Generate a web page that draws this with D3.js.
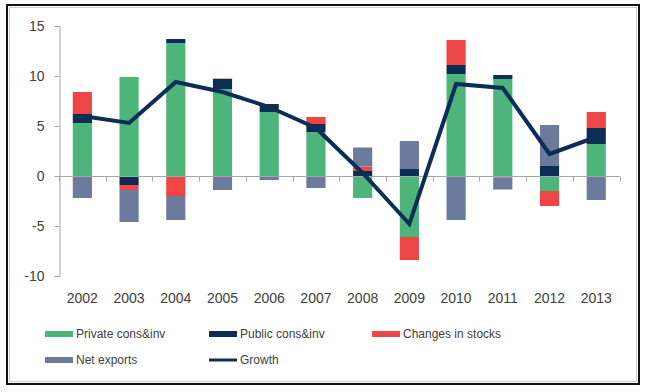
<!DOCTYPE html>
<html>
<head>
<meta charset="utf-8">
<script src="https://cdn.jsdelivr.net/npm/d3@7"></script>
<style>
  body { margin: 0; background: #fff; }
  text { font-family: "Liberation Sans", Arial, sans-serif; fill: #404040; }
</style>
</head>
<body>
<div id="wrapper"></div>
<script>
const years = ['2002', '2003', '2004', '2005', '2006', '2007', '2008', '2009', '2010', '2011', '2012', '2013'];
const privateCons = [5.3, 9.9, 13.3, 8.7, 6.4, 4.4, -2.2, -6.1, 10.2, 9.7, -1.5, 3.2];
const publicCons = [0.9, -0.9, 0.4, 1.0, 0.8, 0.8, 0.5, 0.7, 0.9, 0.4, 1.0, 1.6];
const stocks = [2.2, -0.5, -2.0, 0.05, -0.1, 0.7, 0.45, -2.3, 2.5, -0.15, -1.5, 1.6];
const netExports = [-2.2, -3.2, -2.4, -1.4, -0.3, -1.2, 1.9, 2.8, -4.4, -1.2, 4.1, -2.4];
const growth = [6.0, 5.3, 9.4, 8.4, 6.9, 4.8, 0.3, -4.8, 9.2, 8.8, 2.2, 3.9];
const yTicks = [-10, -5, 0, 5, 10, 15];

const series = [
  { key: 'private', label: 'Private cons&inv', color: '#4db47a', values: privateCons },
  { key: 'public', label: 'Public cons&inv', color: '#0c2e56', values: publicCons },
  { key: 'stocks', label: 'Changes in stocks', color: '#ee4646', values: stocks },
  { key: 'net', label: 'Net exports', color: '#6c7a9d', values: netExports }
];

const table = years.map((y, i) => {
  const row = { year: y };
  series.forEach(s => row[s.key] = s.values[i]);
  return row;
});

const width = 645;
const height = 392;

const svg = d3.select('#wrapper')
  .append('svg')
    .attr('width', width)
    .attr('height', height);

// frame
svg.append('rect')
    .attr('x', 7).attr('y', 5)
    .attr('width', 632).attr('height', 379)
    .attr('fill', 'none')
    .attr('stroke', '#111')
    .attr('stroke-width', 2);
svg.append('rect')
    .attr('x', 9.5).attr('y', 7.5)
    .attr('width', 627).attr('height', 374)
    .attr('fill', 'none')
    .attr('stroke', '#ccc')
    .attr('stroke-width', 1);

const xScale = d3.scaleBand()
  .domain(years)
  .range([59, 619.6])
  .paddingInner(0.59)
  .paddingOuter(0.295);

const yScale = d3.scaleLinear()
  .domain([-10, 15])
  .range([276, 26]);

const stack = d3.stack()
  .keys(series.map(s => s.key))
  .offset(d3.stackOffsetDiverging);

const stacked = stack(table);

// y axis
const yAxis = svg.append('g')
    .attr('transform', 'translate(59.5,0)')
    .call(d3.axisLeft(yScale)
      .tickValues(yTicks)
      .tickFormat(d => String(d))
      .tickSize(5)
      .tickPadding(10));
yAxis.select('.domain').attr('stroke', '#a6a6a6');
yAxis.selectAll('.tick line').attr('stroke', '#a6a6a6');
yAxis.selectAll('.tick text')
    .style('font-size', '14px')
    .attr('fill', '#404040');

// bars
svg.append('g')
  .selectAll('g')
  .data(stacked)
  .join('g')
    .attr('fill', (d, i) => series[i].color)
  .selectAll('rect')
  .data(d => d)
  .join('rect')
    .attr('x', d => xScale(d.data.year))
    .attr('width', xScale.bandwidth())
    .attr('y', d => yScale(Math.max(d[0], d[1])))
    .attr('height', d => Math.abs(yScale(d[0]) - yScale(d[1])));

// x axis at zero with ticks at band edges
const zeroY = Math.round(yScale(0)) + 0.5;
const x0 = xScale.range()[0];
svg.append('line')
    .attr('x1', x0).attr('x2', xScale.range()[1])
    .attr('y1', zeroY).attr('y2', zeroY)
    .attr('stroke', '#a6a6a6');
svg.append('g')
  .selectAll('line')
  .data(d3.range(years.length + 1))
  .join('line')
    .attr('x1', i => Math.round(x0 + i * xScale.step()) + 0.5)
    .attr('x2', i => Math.round(x0 + i * xScale.step()) + 0.5)
    .attr('y1', zeroY)
    .attr('y2', zeroY + 5)
    .attr('stroke', '#a6a6a6');

svg.append('g')
  .selectAll('text')
  .data(years)
  .join('text')
    .attr('x', d => xScale(d) + xScale.bandwidth() / 2)
    .attr('y', 303)
    .attr('text-anchor', 'middle')
    .style('font-size', '14px')
    .text(d => d);

// growth line
const lineGenerator = d3.line()
  .x((d, i) => xScale(years[i]) + xScale.bandwidth() / 2)
  .y(d => yScale(d));

svg.append('path')
    .attr('d', lineGenerator(growth))
    .attr('fill', 'none')
    .attr('stroke', '#0c2e56')
    .attr('stroke-width', 4)
    .attr('stroke-linejoin', 'miter');

// legend
const legendItems = [
  { label: series[0].label, color: series[0].color, x: 45, y: 334, type: 'box' },
  { label: series[1].label, color: series[1].color, x: 209, y: 334, type: 'box' },
  { label: series[2].label, color: series[2].color, x: 372, y: 334, type: 'box' },
  { label: series[3].label, color: series[3].color, x: 45, y: 360, type: 'box' },
  { label: 'Growth', color: '#0c2e56', x: 209, y: 360, type: 'line' }
];

const legend = svg.append('g')
  .selectAll('g')
  .data(legendItems)
  .join('g')
    .attr('transform', d => `translate(${d.x},${d.y})`);

legend.filter(d => d.type === 'box')
  .append('rect')
    .attr('x', 0).attr('y', -3)
    .attr('width', 28).attr('height', 6)
    .attr('fill', d => d.color);

legend.filter(d => d.type === 'line')
  .append('line')
    .attr('x1', 0).attr('x2', 28)
    .attr('y1', 0).attr('y2', 0)
    .attr('stroke', d => d.color)
    .attr('stroke-width', 3);

legend.append('text')
    .attr('x', 31)
    .attr('y', 0)
    .attr('dy', '0.35em')
    .style('font-size', '12px')
    .text(d => d.label);
</script>
</body>
</html>
